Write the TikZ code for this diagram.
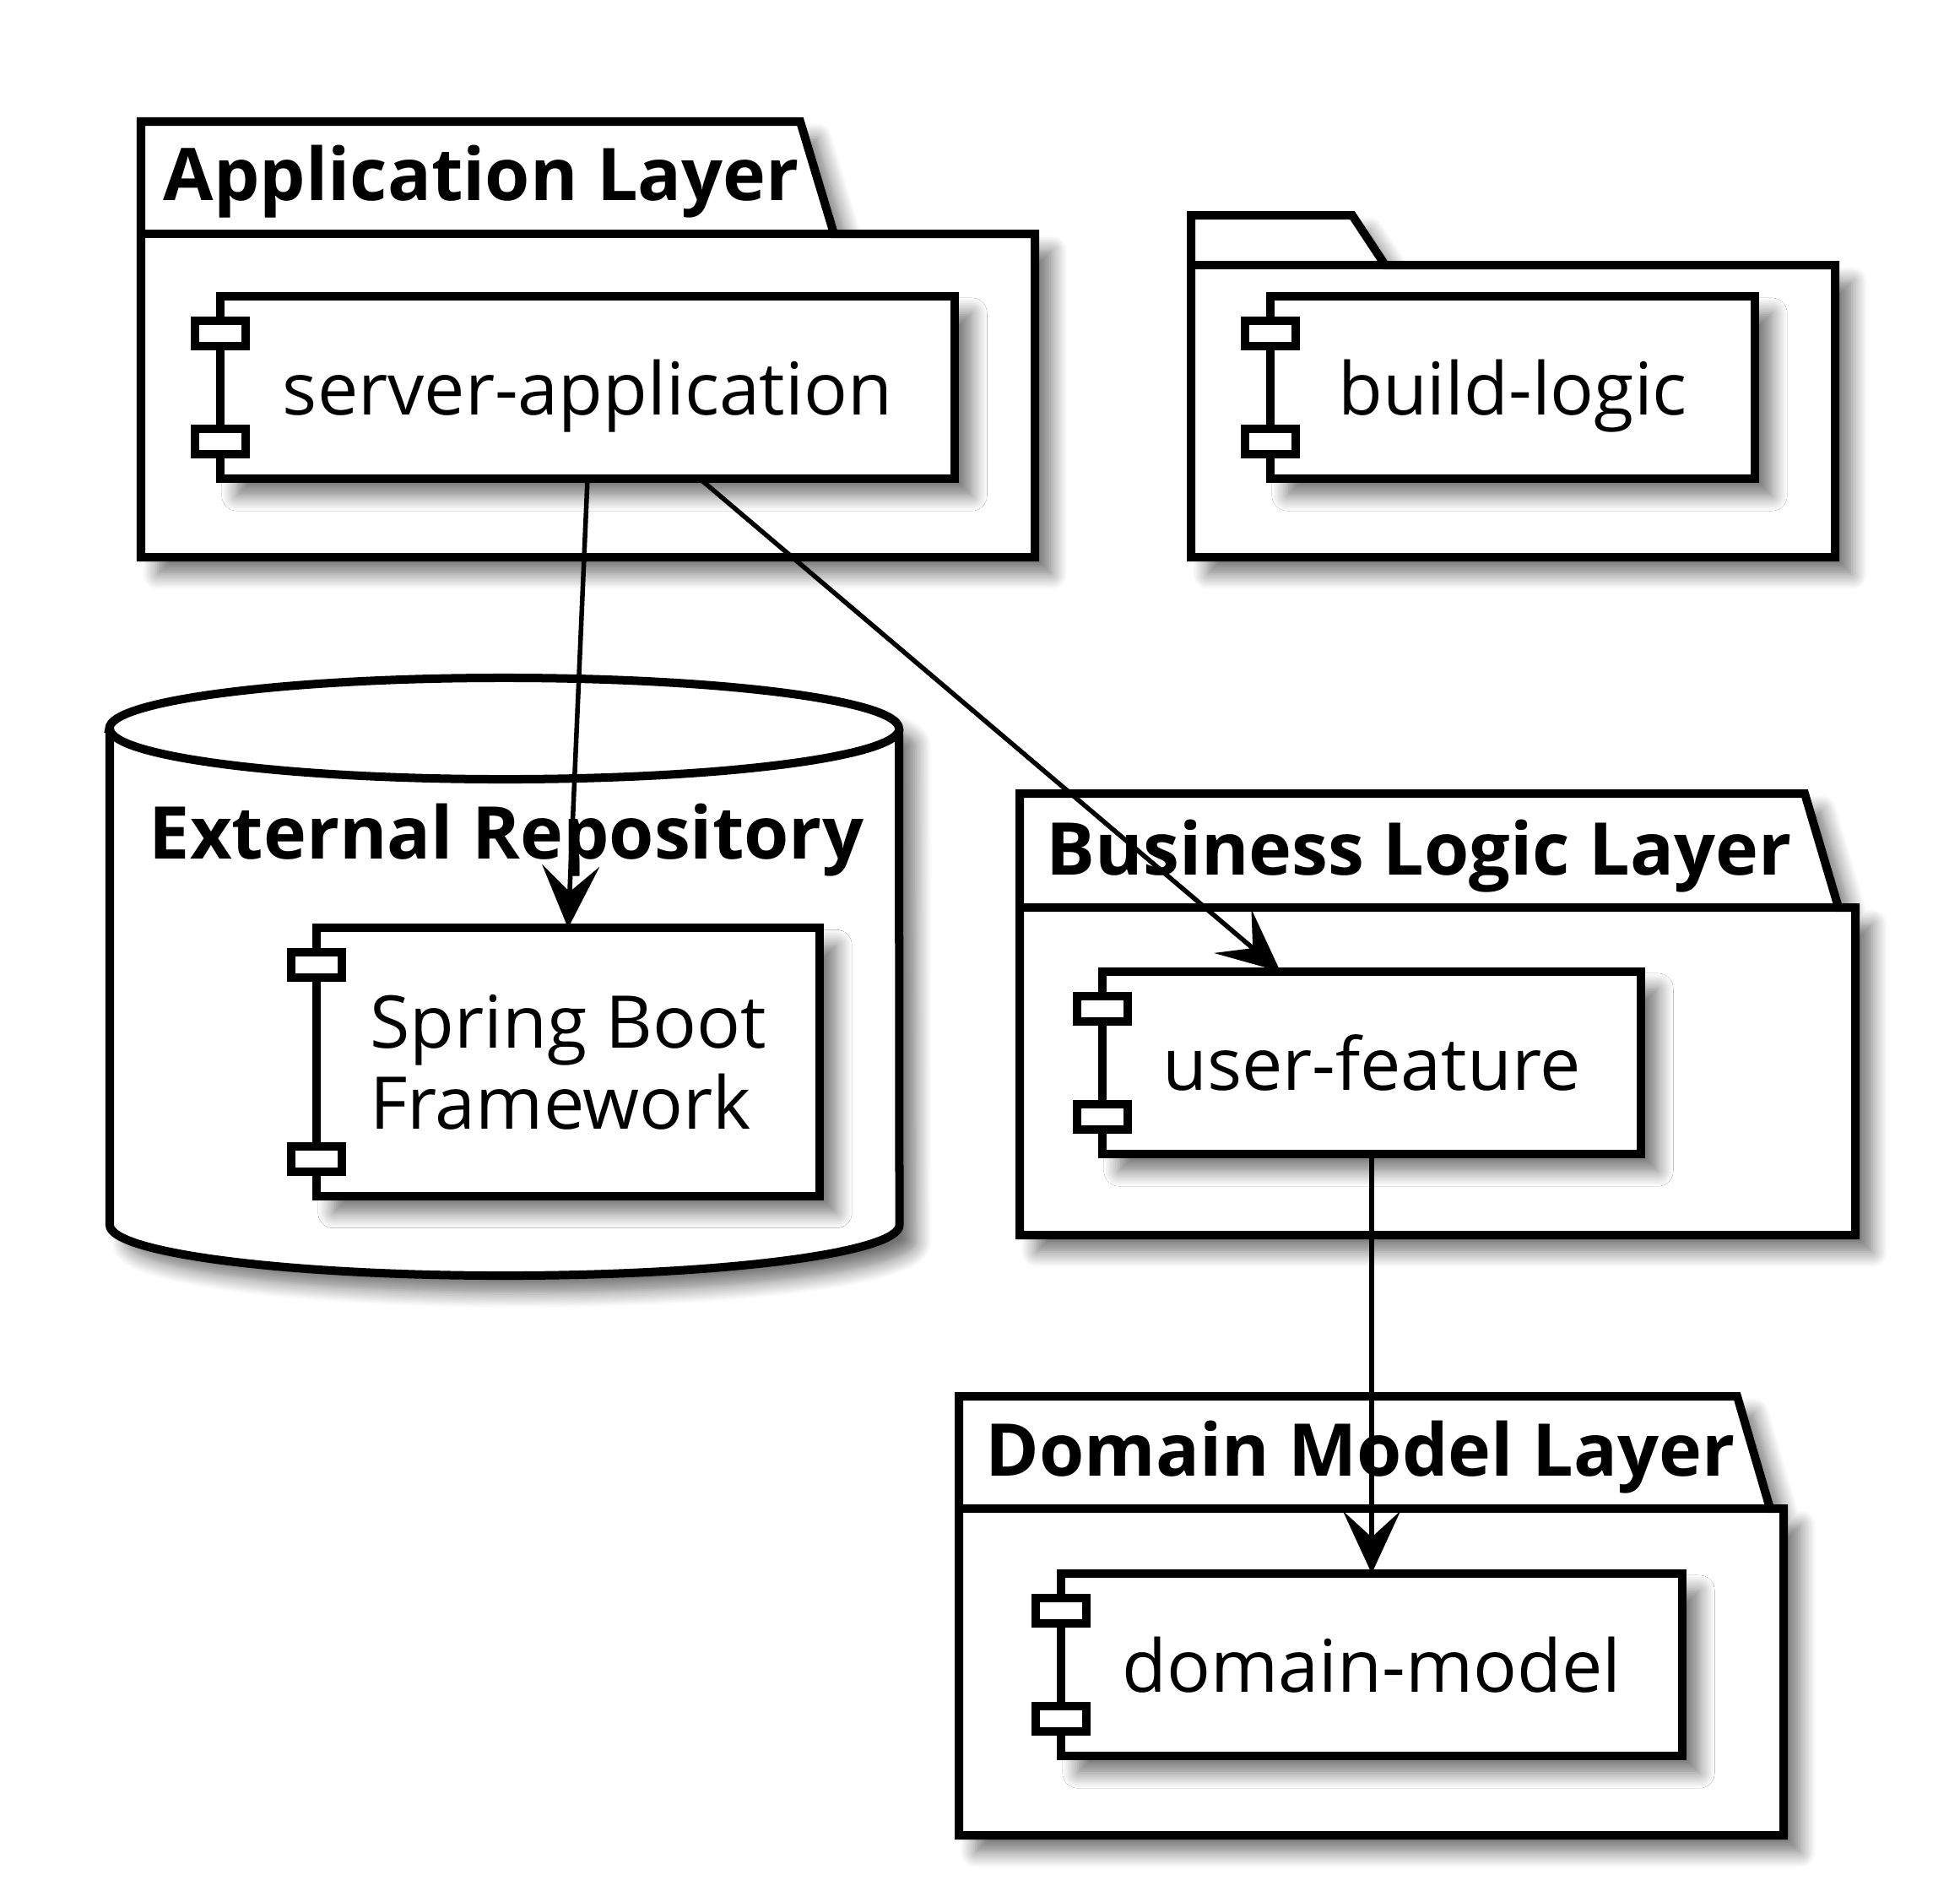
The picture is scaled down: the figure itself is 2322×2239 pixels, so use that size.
\documentclass[tikz,border=0pt]{standalone}
\usepackage{fontspec}
\setmainfont{Open Sans}
\usetikzlibrary{arrows.meta,shadows.blur}

\tikzstyle{softshadow}=[blur shadow={shadow xshift=0.2cm, shadow yshift=-0.2cm, shadow blur radius=0.18cm, shadow blur steps=10, shadow opacity=55}]
\tikzstyle{box}=[draw, line width=0.1cm, fill=white, softshadow]
\tikzstyle{comp}=[box, inner sep=0pt, outer sep=0pt, minimum height=2.16cm, align=left, text depth=0pt, font=\fontsize{24.5}{27.3}\selectfont]
\tikzstyle{port}=[draw, line width=0.1cm, fill=white]
\tikzstyle{pkgtitle}=[anchor=base west, inner sep=0pt, font=\fontsize{24.5}{29}\selectfont\bfseries]
\tikzstyle{dep}=[-{Stealth[length=0.74cm, width=0.68cm, inset=0.31cm]}, line width=0.055cm, draw=black, fill=black]

\begin{document}
\begin{tikzpicture}[x=0.01cm, y=-0.01cm]
  \useasboundingbox (0,0) rectangle (2322,2239);
  \foreach \l/\t/\r/\s/\m/\R/\b in {167/144/948/988/277/1226/660, 1411/255/1602/1641/314/2174/660,
      1208/940/2138/2178/1075/2198/1463, 1136/1654/2058/2097/1787/2113/2174} {%
    \draw[box] (\l,\t) -- (\r,\t) -- (\s,\m) -- (\R,\m) -- (\R,\b) -- (\l,\b) -- cycle;
    \draw[line width=0.1cm] (\l,\m) -- (\s,\m);
  }
  \draw[box] (130,863) -- (130,1451) arc[start angle=180, end angle=360, x radius=4.675cm, y radius=0.6cm]
    -- (1065,863) arc[start angle=0, end angle=180, x radius=4.675cm, y radius=0.6cm] -- cycle;
  \draw[line width=0.1cm] (130,863) arc[start angle=180, end angle=360, x radius=4.675cm, y radius=0.6cm];

  \node[pkgtitle] (applayer) at (193,237) {Application Layer};
  \node[pkgtitle] (bizlayer) at (1239,1036) {Business Logic Layer};
  \node[pkgtitle] (domlayer) at (1167,1748) {Domain Model Layer};
  \node[pkgtitle, anchor=base] (extrepo) at (600,1017) {External Repository};

  \node[comp, minimum width=8.7cm] (srv) at (696,459) {server-application};
  \node[comp, minimum width=5.74cm] (build) at (1792,459) {build-logic};
  \node[comp, minimum width=5.96cm, minimum height=3.17cm] (spring) at (673,1258) {Spring Boot\\Framework};
  \node[comp, minimum width=6.38cm] (user) at (1625,1259) {user-feature};
  \node[comp, minimum width=7.36cm] (dom) at (1625,1972) {domain-model};
  \foreach \c in {srv, build, spring, user, dom} {%
    \draw[port] ([xshift=-0.3cm, yshift=-0.29cm]\c.north west) rectangle ++(60,30);
    \draw[port] ([xshift=-0.3cm, yshift=0.29cm]\c.south west) rectangle ++(60,-30);
  }

  \draw[dep] (srv.south) to (spring.north);
  \draw[dep] ([xshift=1.33cm]srv.south) to ([xshift=-1.08cm]user.north);
  \draw[dep] (user.south) to (dom.north);
\end{tikzpicture}
\end{document}
